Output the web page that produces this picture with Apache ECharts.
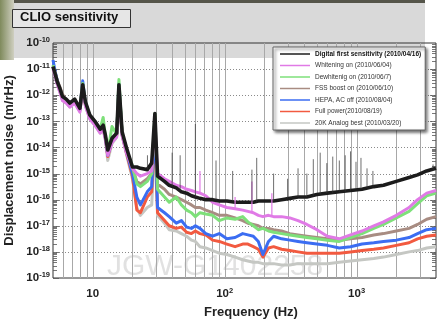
<!DOCTYPE html>
<html lang="en">
<head>
  <meta charset="utf-8" />
  <title>CLIO sensitivity</title>
  <style>
    html, body { margin: 0; background: #fff; }
    #container { width: 445px; height: 321px; }
  </style>
</head>
<body>
  <div id="container"></div>
  <script src="https://cdn.jsdelivr.net/npm/echarts@6/dist/echarts.min.js"></script>
  <script>
    // frequency grid (Hz) shared by all traces
    const freq = [5, 5.2, 5.4, 5.65, 5.9, 6.3, 6.7, 7.3, 8.0, 8.4,
      8.8, 9.5, 10.4, 11.4, 12.0, 12.5, 13.0, 14.0, 15.2, 15.8,
      16.7, 18, 20, 21.6, 23, 25.9, 28, 29.6, 31, 35,
      38, 43, 47, 51.5, 56, 60, 65, 72, 81, 91,
      104, 120, 137, 150, 165, 180, 195, 215, 235, 270,
      312, 360, 420, 500, 600, 740, 900, 1100, 1350, 1600,
      2000, 2500, 2900, 3400, 4000];

    // log10 of displacement noise (m/rHz)
    const digitalLog = [-10.9, -11.2, -11.5, -11.75, -12.05, -12.15, -12.3, -12.15, -12.5, -11.6,
      -12.25, -12.75, -13.0, -13.3, -13.15, -13.55, -14.1, -13.65, -13.45, -11.6,
      -13.4, -14.0, -14.75, -14.75, -14.8, -14.85, -14.6, -12.7, -15.1, -15.3,
      -15.45, -15.55, -15.7, -15.75, -15.85, -15.9, -15.95, -16.0, -16.0, -16.05,
      -16.05, -16.1, -16.1, -16.1, -16.1, -16.05, -16.05, -16.05, -16.05, -16.0,
      -15.95, -15.9, -15.9, -15.8, -15.75, -15.7, -15.65, -15.6, -15.5, -15.45,
      -15.3, -15.15, -15.05, -14.9, -14.8];
    const whiteningLog = [-10.95, -11.3, -11.6, -11.9, -12.2, -12.3, -12.45, -12.3, -12.65, -11.7,
      -12.4, -12.9, -13.15, -13.45, -13.3, -13.7, -14.3, -13.8, -13.6, -11.8,
      -13.55, -14.2, -14.8, -15.0, -15.1, -15.0, -14.9, -13.0, -15.0, -15.2,
      -15.3, -15.45, -15.5, -15.6, -15.65, -15.7, -15.75, -15.85, -16.1, -16.2,
      -16.3, -16.35, -16.4, -16.45, -16.5, -16.6, -16.65, -16.6, -16.65, -16.65,
      -16.7, -16.8, -16.95, -17.15, -17.4, -17.5, -17.35, -17.2, -17.0, -16.85,
      -16.6, -16.3, -16.0, -15.75, -15.65];
    const dewhiteningLog = [-10.85, -11.2, -11.5, -11.8, -12.1, -12.2, -12.35, -12.2, -12.55, -11.55,
      -12.3, -12.8, -13.0, -13.3, -12.85, -13.6, -14.2, -13.2, -13.5, -11.4,
      -13.45, -14.1, -14.7, -15.4, -15.5, -15.3, -15.0, -12.7, -15.6, -15.9,
      -16.1, -15.9, -16.2, -16.4, -16.5, -16.65, -16.5, -16.55, -16.6, -16.8,
      -16.7, -16.75, -16.65, -16.85, -17.0, -17.15, -17.1, -17.2, -17.25, -17.3,
      -17.35, -17.4, -17.45, -17.5, -17.55, -17.6, -17.45, -17.3, -17.1, -16.95,
      -16.7, -16.45, -16.15, -15.85, -15.75];
    const fssLog = [-10.9, -11.15, -11.45, -11.7, -11.95, -12.2, -12.3, -12.2, -12.5, -11.6,
      -12.3, -12.8, -13.05, -13.35, -13.2, -13.6, -14.15, -13.7, -13.5, -11.6,
      -13.45, -14.1, -14.8, -15.3, -15.4, -15.2, -15.0, -13.0, -15.4, -15.6,
      -15.8, -15.9, -16.0, -16.1, -16.2, -16.3, -16.3, -16.4, -16.5, -16.6,
      -16.6, -16.7, -16.8, -16.9, -16.95, -17.0, -17.1, -17.1, -17.15, -17.2,
      -17.3, -17.35, -17.4, -17.45, -17.5, -17.55, -17.5, -17.45, -17.35, -17.3,
      -17.2, -17.1, -16.95, -16.75, -16.65];
    const hepaLog = [-10.65, -11.1, -11.45, -11.8, -12.1, -12.2, -12.35, -12.25, -12.55, -11.45,
      -12.3, -12.85, -13.05, -13.35, -13.2, -13.65, -14.3, -13.75, -13.5, -11.55,
      -13.5, -14.15, -15.0, -15.9, -16.2, -15.7, -15.5, -13.1, -16.3, -16.5,
      -16.65, -16.9, -16.8, -17.05, -17.1, -17.0, -17.1, -17.3, -17.4, -17.3,
      -17.5, -17.45, -17.3, -17.35, -17.4, -17.6, -18.1, -17.6, -17.4, -17.5,
      -17.55, -17.6, -17.65, -17.7, -17.75, -17.85, -17.8, -17.7, -17.65, -17.6,
      -17.55, -17.45, -17.3, -17.15, -17.1];
    const fullPowerLog = [-10.9, -11.2, -11.5, -11.8, -12.1, -12.25, -12.4, -12.25, -12.55, -11.7,
      -12.35, -12.85, -13.1, -13.4, -13.25, -13.65, -14.35, -13.75, -13.55, -11.7,
      -13.5, -14.2, -15.1, -16.4, -16.5, -15.9, -15.7, -13.2, -16.5, -16.8,
      -17.0, -17.1, -17.05, -17.25, -17.3, -17.2, -17.3, -17.35, -17.55, -17.6,
      -17.7, -17.8, -17.7, -17.7, -17.8, -17.9, -18.2, -17.85, -17.8, -17.9,
      -17.95, -18.0, -18.05, -18.05, -18.05, -18.05, -18.0, -17.95, -17.9, -17.85,
      -17.75, -17.65, -17.5, -17.4, -17.35];
    const analogLog = [-11.0, -11.3, -11.6, -11.9, -12.2, -12.3, -12.45, -12.3, -12.6, -11.8,
      -12.4, -12.9, -13.15, -13.45, -13.3, -13.75, -14.5, -13.85, -13.6, -11.9,
      -13.55, -14.25, -15.2, -16.3, -16.6, -16.3, -16.2, -13.6, -16.6, -16.9,
      -17.15, -17.2, -17.3, -17.4, -17.55, -17.6, -17.8, -17.85, -17.95, -18.05,
      -18.1, -18.2, -18.3, -18.35, -18.4, -18.4, -18.45, -18.45, -18.45, -18.5,
      -18.5, -18.45, -18.45, -18.45, -18.45, -18.4, -18.35, -18.3, -18.25, -18.2,
      -18.1, -18.0, -17.95, -17.85, -17.8];

    // narrow lines sticking out of the traces: [freq, base log10, peak log10]
    const digitalSpikes = [[26, -14.85, -14.3], [40, -15.5, -14.2], [46, -15.65, -14.3], [60, -15.9, -13.1],
      [86, -16.0, -14.5], [115, -16.05, -14.9], [161, -16.1, -14.85], [175, -16.1, -14.4],
      [235, -16.05, -15.0], [300, -15.95, -15.2], [360, -15.9, -14.8], [420, -15.9, -15.0],
      [470, -15.85, -14.45], [530, -15.8, -14.2], [595, -15.75, -14.6], [660, -15.75, -14.35],
      [740, -15.7, -14.5], [820, -15.7, -14.3], [900, -15.65, -14.15], [990, -15.6, -14.55],
      [1080, -15.6, -14.4], [1200, -15.55, -14.8], [1330, -15.5, -14.9], [3800, -14.85, -14.65]];
    const whiteningSpikes = [[65, -15.75, -14.9], [120, -16.35, -15.9], [161, -16.45, -15.3], [228, -16.6, -15.75]];

    const xTickFreq = [6, 7, 8, 9, 10, 20, 30, 40, 50, 60, 70, 80, 90, 100,
      200, 300, 400, 500, 600, 700, 800, 900, 1000, 2000, 3000];
    const yDecades = [-18, -17, -16, -15, -14, -13, -12, -11];

    const traces = [
      { name: 'Digital first sensitivity (2010/04/16)', color: '#1c1c1c', logs: digitalLog, width: 3.6 },
      { name: 'Whitening on (2010/06/04)', color: '#e07ae6', logs: whiteningLog, width: 3 },
      { name: 'Dewhitenig on (2010/06/7)', color: '#7ee07a', logs: dewhiteningLog, width: 3 },
      { name: 'FSS boost on (2010/06/10)', color: '#a88c82', logs: fssLog, width: 3 },
      { name: 'HEPA, AC off (2010/08/04)', color: '#3b6df2', logs: hepaLog, width: 3 },
      { name: 'Full power(2010/08/19)', color: '#f25a40', logs: fullPowerLog, width: 3 },
      { name: '20K Analog best (2010/03/20)', color: '#c5c7c3', logs: analogLog, width: 3 }
    ];

    // y ticks 1..9 in every decade
    const yTicks = [];
    for (let k = -19; k < -10; k++) {
      for (let m = 1; m <= 9; m++) yTicks.push(m * Math.pow(10, k));
    }

    function powLabel(value) {
      const e = Math.log10(value);
      const r = Math.round(e);
      if (Math.abs(e - r) > 1e-6) return '';
      return r === 1 ? '{b|10}' : '{b|10}{s|' + r + '}';
    }
    const labelRich = {
      b: { fontSize: 11.5, fontWeight: 'bold', color: '#222', lineHeight: 14 },
      s: { fontSize: 7.5, fontWeight: 'bold', color: '#222', verticalAlign: 'top', lineHeight: 9 }
    };

    const series = [];

    // vertical grid lines
    series.push({
      type: 'custom', silent: true, z: 1,
      data: xTickFreq.map(f => [f, 1e-15]),
      renderItem: function (params, api) {
        const cs = params.coordSys;
        const x = Math.round(api.coord([api.value(0), api.value(1)])[0]) + 0.5;
        return { type: 'line', shape: { x1: x, y1: cs.y, x2: x, y2: cs.y + cs.height },
          style: { stroke: '#a8a8a8', lineWidth: 1 } };
      }
    });
    // horizontal dotted decade lines
    series.push({
      type: 'custom', silent: true, z: 1,
      data: yDecades.map(e => [10, Math.pow(10, e)]),
      renderItem: function (params, api) {
        const cs = params.coordSys;
        const y = Math.round(api.coord([api.value(0), api.value(1)])[1]) + 0.5;
        return { type: 'line', shape: { x1: cs.x, y1: y, x2: cs.x + cs.width, y2: y },
          style: { stroke: '#8a8a8a', lineWidth: 1, lineDash: [1, 2] } };
      }
    });
    // y ticks on both sides
    series.push({
      type: 'custom', silent: true, z: 1,
      data: yTicks.map(v => [10, v]),
      renderItem: function (params, api) {
        const cs = params.coordSys;
        const y = Math.round(api.coord([api.value(0), api.value(1)])[1]) + 0.5;
        const len = Math.abs(Math.log10(api.value(1)) % 1) < 1e-6 ? 6 : 4;
        return { type: 'group', children: [
          { type: 'line', shape: { x1: cs.x, y1: y, x2: cs.x + len, y2: y }, style: { stroke: '#555', lineWidth: 0.8 } },
          { type: 'line', shape: { x1: cs.x + cs.width - len, y1: y, x2: cs.x + cs.width, y2: y }, style: { stroke: '#555', lineWidth: 0.8 } }
        ] };
      }
    });

    // traces, drawn back to front
    traces.slice().reverse().forEach(function (t) {
      series.push({
        name: t.name,
        type: 'line',
        symbol: 'none',
        z: 3,
        data: freq.map((f, i) => [f, Math.pow(10, t.logs[i])]),
        lineStyle: { color: t.color, width: t.width, join: 'round' },
        itemStyle: { color: t.color }
      });
    });

    function spikeSeries(list, color, width) {
      return {
        type: 'custom', silent: true, z: 4,
        data: list.map(s => [s[0], Math.pow(10, s[1]), Math.pow(10, s[2])]),
        encode: { x: 0, y: [1, 2] },
        renderItem: function (params, api) {
          const p1 = api.coord([api.value(0), api.value(1)]);
          const p2 = api.coord([api.value(0), api.value(2)]);
          return { type: 'line', shape: { x1: p1[0], y1: p1[1], x2: p2[0], y2: p2[1] },
            style: { stroke: color, lineWidth: width } };
        }
      };
    }
    series.push(spikeSeries(whiteningSpikes, '#e07ae6', 1.2));
    series.push(spikeSeries(digitalSpikes, 'rgba(50,50,50,0.7)', 1));

    var dom = document.getElementById('container');
    var myChart = echarts.init(dom, null, { renderer: 'canvas' });

    var option = {
      animation: false,
      textStyle: { fontFamily: 'Liberation Sans, Arial, sans-serif' },
      grid: { left: 53, right: 9, top: 43, bottom: 43, show: true, borderColor: '#333', borderWidth: 1,
        containLabel: false, outerBoundsMode: 'none' },
      xAxis: {
        type: 'log', logBase: 10, min: 5, max: 4000,
        name: 'Frequency (Hz)', nameLocation: 'middle', nameGap: 28,
        nameTextStyle: { fontSize: 13, fontWeight: 'bold', color: '#222', padding: [0, 0, 0, 13] },
        axisLine: { show: false }, axisTick: { show: false }, splitLine: { show: false },
        axisLabel: { formatter: powLabel, rich: labelRich, margin: 9, showMinLabel: false, showMaxLabel: false }
      },
      yAxis: {
        type: 'log', logBase: 10, min: 1e-19, max: 1e-10,
        name: 'Displacement noise (m/rHz)', nameLocation: 'middle', nameGap: 35,
        nameTextStyle: { fontSize: 13, fontWeight: 'bold', color: '#222' },
        axisLine: { show: false }, axisTick: { show: false }, splitLine: { show: false },
        axisLabel: { formatter: powLabel, rich: labelRich, margin: 3 }
      },
      legend: {
        data: traces.map((t, i) => ({ name: t.name, textStyle: i === 0 ? { fontWeight: 'bold', color: '#111' } : {} })),
        orient: 'vertical', left: 273, top: 47, z: 10,
        icon: 'rect', itemWidth: 30, itemHeight: 1.5, itemGap: 1.5,
        padding: [2, 4, 2, 7],
        backgroundColor: '#fff', borderColor: '#666', borderWidth: 1,
        shadowColor: 'rgba(0,0,0,0.6)', shadowBlur: 3, shadowOffsetX: 2, shadowOffsetY: 2,
        textStyle: { fontSize: 6.5, color: '#333', lineHeight: 10 },
        selectedMode: false
      },
      graphic: [
        // greyish photo band behind the top of the slide
        { type: 'rect', z: -1, shape: { x: 0, y: 0, width: 425, height: 58 }, style: { fill: '#d9d9d9' } },
        { type: 'rect', z: -1, shape: { x: 0, y: 0, width: 425, height: 3 }, style: { fill: '#55554a' } },
        { type: 'rect', z: -1, shape: { x: 0, y: 0, width: 14, height: 60 },
          style: { fill: new echarts.graphic.LinearGradient(0, 0, 1, 0, [
            { offset: 0, color: '#7f8a5c' }, { offset: 1, color: '#cfcfc0' }]) } },
        // watermark
        { type: 'text', z: -1, left: 107, top: 252,
          style: { text: 'JGW-G1402258', fontSize: 30, fill: 'rgba(205,205,205,0.6)', fontFamily: 'Liberation Sans, Arial, sans-serif' } },
        // title box
        { type: 'rect', z: 10, shape: { x: 12.5, y: 9.5, width: 118, height: 18 },
          style: { fill: '#e6e6e6', stroke: '#333', lineWidth: 1 } },
        { type: 'text', z: 11, left: 20, top: 11,
          style: { text: 'CLIO sensitivity', fontSize: 13, fontWeight: 'bold', fill: '#111', fontFamily: 'Liberation Sans, Arial, sans-serif' } }
      ],
      series: series
    };

    myChart.setOption(option);

    window.onresize = function () {
      myChart.resize();
    };
  </script>
</body>
</html>
